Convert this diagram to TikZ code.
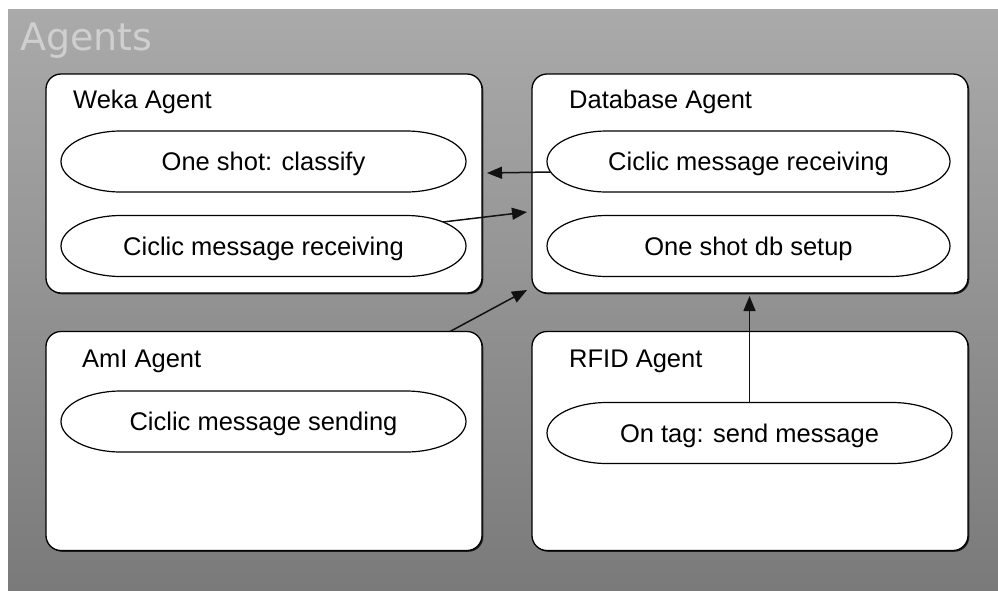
\documentclass[tikz,border=0pt]{standalone}
\usepackage{fontspec}
\setmainfont{Liberation Sans}
\newfontfamily\titlefont{DejaVu Sans}
\usetikzlibrary{arrows.meta,shadows,calc}
\definecolor{bgtop}{HTML}{AAAAAA}
\definecolor{bgbot}{HTML}{7A7A7A}
\definecolor{titlegray}{HTML}{CFCFCF}
\definecolor{arrowcol}{HTML}{111111}
\begin{document}
\begin{tikzpicture}[x=1pt,y=-1pt,
  agentbox/.style={draw=black, line width=1.3pt, fill=white, rounded corners=15pt,
    minimum width=436pt, minimum height=219pt, inner sep=0pt, outer sep=0pt,
    drop shadow={shadow xshift=1.3pt, shadow yshift=-1.3pt, opacity=0.75, fill=black}},
  agentlabel/.style={anchor=base west, inner sep=0pt, font=\fontsize{25.5}{30}\selectfont},
  behav/.style={shape=rectangle, inner sep=0pt, outer sep=0pt, minimum height=61pt,
    text height=18.5pt, text depth=0pt, font=\fontsize{25.5}{30}\selectfont},
  behavborder/.style={draw=black, line width=1.2pt, fill=white},
  msg/.style={draw=arrowcol, line width=1.5pt, -{Triangle[length=15pt,width=12pt]}}
]
\useasboundingbox (0,0) rectangle (998,590);
\shade[top color=bgtop, bottom color=bgbot] (8,9) rectangle (998,590);
\node[anchor=base west, inner sep=0pt, text=titlegray, font=\titlefont\fontsize{38}{44}\selectfont] (title) at (20,50) {Agents};

% agent boxes
\node[agentbox] (weka) at (264,183.5) {};
\node[agentbox] (db)   at (750,183.5) {};
\node[agentbox] (ami)  at (264,441) {};
\node[agentbox] (rfid) at (750,441) {};

\node[agentlabel] (wekal) at (73,108) {Weka Agent};
\node[agentlabel] (dbl)   at (569,108) {Database Agent};
\node[agentlabel] (amil)  at (82,367) {AmI Agent};
\node[agentlabel] (rfidl) at (569,367) {RFID Agent};

% behaviour shapes (positions only, borders drawn below)
\coordinate (w1c) at (263.5,161.5);
\coordinate (w2c) at (263.5,246);
\coordinate (d1c) at (748.5,161.5);
\coordinate (d2c) at (748.5,246);
\coordinate (a1c) at (263.5,421.5);
\coordinate (r1c) at (749.5,433);
\foreach \n/\w in {w1/405,w2/405,d1/403,d2/403,a1/405,r1/405}{
  \path (\n c) node[behav, minimum width=\w pt] (\n) {};
  \draw[behavborder] ([xshift=60pt]\n.north west) -- ([xshift=-60pt]\n.north east)
    arc[start angle=90, end angle=-90, x radius=60pt, y radius=30.5pt]
    -- ([xshift=60pt]\n.south west)
    arc[start angle=270, end angle=90, x radius=60pt, y radius=30.5pt] -- cycle;
}
\node[behav] (w1t) at (w1c) {One shot: classify};
\node[behav] (w2t) at (w2c) {Ciclic message receiving};
\node[behav] (d1t) at (d1c) {Ciclic message receiving};
\node[behav] (d2t) at (d2c) {One shot db setup};
\node[behav] (a1t) at (a1c) {Ciclic message sending};
\node[behav] (r1t) at (r1c) {On tag: send message};

% connectors
\coordinate (e1) at (487,173);
\coordinate (e2) at (527,212);
\coordinate (e3) at (527,290);
\coordinate (e4) at (749.5,296);
\draw[msg] ([xshift=3.7pt,yshift=-10.5pt]d1.west) -- (e1);
\draw[msg] ([xshift=-23pt,yshift=24pt]w2.east) -- (e2);
\draw[msg] ([xshift=-32pt]ami.north east) -- (e3);
\draw[msg] (r1.north) -- (e4);
\end{tikzpicture}
\end{document}
